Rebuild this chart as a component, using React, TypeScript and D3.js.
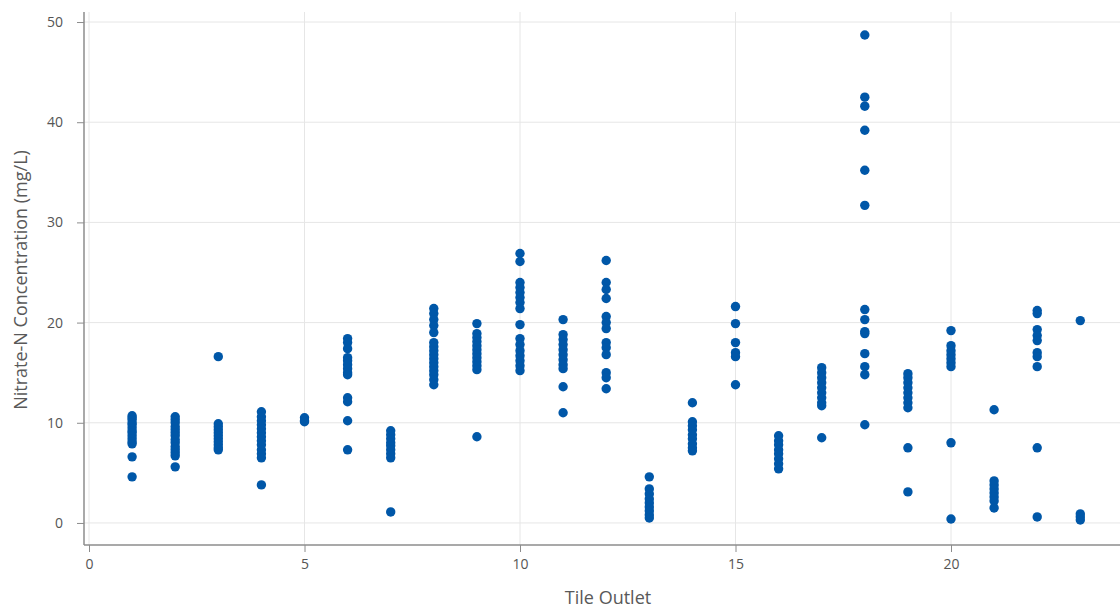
import { useRef, useEffect } from "react";
import * as d3 from "d3";

// nitrate-N readings per tile outlet (mg/L)
const outlets = [1, 2, 3, 4, 5, 6, 7, 8, 9, 10, 11, 12, 13, 14, 15, 16, 17, 18, 19, 20, 21, 22, 23];
const readings: number[][] = [
  [10.7, 10.5, 10.3, 10.0, 9.8, 9.5, 9.2, 9.0, 8.7, 8.4, 8.1, 7.9, 6.6, 4.6],
  [10.6, 10.3, 10.0, 9.6, 9.3, 9.0, 8.7, 8.3, 8.0, 7.6, 7.3, 7.0, 6.7, 5.6],
  [16.6, 9.9, 9.6, 9.3, 9.0, 8.7, 8.4, 8.1, 7.8, 7.5, 7.3],
  [11.1, 10.6, 10.2, 9.8, 9.4, 9.0, 8.6, 8.2, 7.8, 7.3, 6.9, 6.5, 3.8],
  [10.5, 10.2, 10.1],
  [18.4, 18.0, 17.4, 16.5, 16.2, 15.8, 15.4, 15.0, 14.8, 12.5, 12.1, 10.2, 7.3],
  [9.2, 8.8, 8.4, 8.0, 7.7, 7.3, 6.9, 6.5, 1.1],
  [21.4, 20.9, 20.3, 19.7, 19.0, 18.0, 17.6, 17.2, 16.8, 16.4, 16.0, 15.6, 15.2, 14.8, 14.3, 13.8],
  [19.9, 18.9, 18.5, 18.1, 17.7, 17.3, 16.9, 16.5, 16.1, 15.7, 15.3, 8.6],
  [26.9, 26.1, 24.0, 23.5, 23.0, 22.5, 22.0, 21.4, 19.8, 18.4, 17.8, 17.2, 16.7, 16.2, 15.7, 15.2],
  [20.3, 18.8, 18.3, 17.8, 17.3, 16.8, 16.3, 15.8, 15.4, 13.6, 11.0],
  [26.2, 24.0, 23.3, 22.4, 20.6, 20.0, 19.4, 18.0, 17.5, 16.8, 15.0, 14.5, 13.4],
  [4.6, 3.4, 2.9, 2.4, 2.0, 1.6, 1.2, 0.8, 0.5],
  [12.0, 10.1, 9.7, 9.3, 8.8, 8.4, 7.9, 7.5, 7.2],
  [21.6, 19.9, 18.0, 17.0, 16.6, 13.8],
  [8.7, 8.2, 7.8, 7.3, 6.9, 6.4, 5.9, 5.4],
  [15.5, 15.0, 14.5, 14.0, 13.5, 13.0, 12.5, 12.0, 11.7, 8.5],
  [48.7, 42.5, 41.6, 39.2, 35.2, 31.7, 21.3, 20.3, 19.1, 18.9, 16.9, 15.6, 14.8, 9.8],
  [14.9, 14.5, 14.0, 13.5, 13.0, 12.5, 12.0, 11.5, 7.5, 3.1],
  [19.2, 17.7, 17.2, 16.8, 16.4, 16.0, 15.6, 8.0, 0.4],
  [11.3, 4.2, 3.8, 3.4, 3.0, 2.6, 2.2, 1.5],
  [21.2, 20.9, 19.3, 18.7, 18.2, 17.0, 16.6, 15.6, 7.5, 0.6],
  [20.2, 0.9, 0.6, 0.3],
];
const xTicks = [0, 5, 10, 15, 20];
const yTicks = [0, 10, 20, 30, 40, 50];

function App() {
  const svgRef = useRef<SVGSVGElement>(null);

  useEffect(() => {
    const WIDTH = 1120;
    const HEIGHT = 610;
    const left = 84, right = 1120, top = 12, bottom = 545;

    const svg = d3.select(svgRef.current);
    svg.selectAll("*").remove();

    const x = d3.scaleLinear().domain([0, 24]).range([89, 89 + 24 * 43.1]);
    const y = d3.scaleLinear().domain([-2.2, 51]).range([bottom, top]);

    const font = "'Segoe UI', 'Open Sans', 'Noto Sans', sans-serif";

    // grid
    svg.append("g")
      .selectAll("line")
      .data(xTicks)
      .join("line")
      .attr("x1", d => x(d)).attr("x2", d => x(d))
      .attr("y1", top).attr("y2", bottom)
      .attr("stroke", "#e6e6e6");
    svg.append("g")
      .selectAll("line")
      .data(yTicks)
      .join("line")
      .attr("x1", left).attr("x2", right)
      .attr("y1", d => y(d)).attr("y2", d => y(d))
      .attr("stroke", "#e6e6e6");

    const xAxis = d3.axisBottom(x).tickValues(xTicks).tickSize(7).tickPadding(7);
    const yAxis = d3.axisLeft(y).tickValues(yTicks).tickSize(7).tickPadding(14);

    const gx = svg.append("g").attr("transform", `translate(0, ${bottom})`).call(xAxis);
    gx.select(".domain").remove();
    gx.append("line").attr("x1", left).attr("x2", right).attr("stroke", "#8c8c8c").attr("stroke-width", 1.5);

    const gy = svg.append("g").attr("transform", `translate(${left}, 0)`).call(yAxis);
    gy.select(".domain").remove();
    gy.append("line").attr("y1", top).attr("y2", bottom).attr("stroke", "#8c8c8c").attr("stroke-width", 1.5);

    [gx, gy].forEach(g => {
      g.selectAll(".tick line").attr("stroke", "#8c8c8c");
      g.selectAll(".tick text")
        .attr("fill", "#555")
        .style("font-family", font)
        .style("font-size", "14px");
    });

    // points
    const points = outlets.flatMap((o, i) => readings[i].map(v => ({ o, v })));
    svg.append("g")
      .selectAll("circle")
      .data(points)
      .join("circle")
      .attr("cx", d => x(d.o))
      .attr("cy", d => y(d.v))
      .attr("r", 4.7)
      .attr("fill", "#0057a8");

    svg.append("text")
      .attr("x", 608).attr("y", 604)
      .attr("text-anchor", "middle")
      .attr("fill", "#595959")
      .style("font-family", font)
      .style("font-size", "18px")
      .text("Tile Outlet");

    svg.append("text")
      .attr("transform", `translate(27, 280) rotate(-90)`)
      .attr("text-anchor", "middle")
      .attr("fill", "#595959")
      .style("font-family", font)
      .style("font-size", "18px")
      .text("Nitrate-N Concentration (mg/L)");

    svg.attr("width", WIDTH).attr("height", HEIGHT);
  }, []);

  return (
    <div style={{ position: "absolute", left: 0, top: 0 }}>
      <svg ref={svgRef} style={{ display: "block" }} />
    </div>
  );
}

export default App;
